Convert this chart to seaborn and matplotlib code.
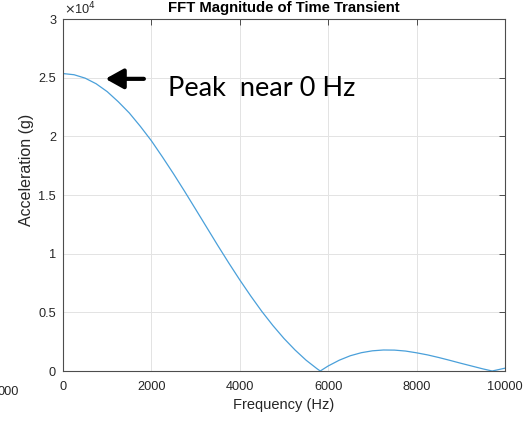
import numpy as np
import pandas as pd
import matplotlib
matplotlib.use("Agg")
import matplotlib.pyplot as plt
from matplotlib.ticker import FixedLocator, FuncFormatter
import seaborn as sns

# Magnitude spectrum of the transient (Hz, g)
freq_hz = [0, 250, 500, 750, 1000, 1250, 1500, 1750, 2000, 2250, 2500, 2750,
           3000, 3250, 3500, 3750, 4000, 4250, 4500, 4750, 5000, 5250, 5500,
           5750, 5820, 6000, 6250, 6500, 6750, 7000, 7250, 7500, 7750, 8000,
           8250, 8500, 8750, 9000, 9250, 9500, 9710, 10000]
accel_g = [25350, 25250, 24960, 24480, 23810, 22950, 21990, 20850, 19620,
           18240, 16810, 15320, 13790, 12250, 10710, 9210, 7760, 6380, 5070,
           3870, 2770, 1790, 920, 185, 0, 430, 920, 1300, 1560, 1720, 1790,
           1780, 1700, 1550, 1370, 1150, 910, 660, 420, 180, 0, 240]

x_ticks = [0, 2000, 4000, 6000, 8000, 10000]
y_ticks = [0, 5000, 10000, 15000, 20000, 25000, 30000]

df = pd.DataFrame({"Frequency (Hz)": freq_hz, "Acceleration (g)": accel_g})

sns.set_theme(style="white")
plt.rcParams["font.family"] = ["Liberation Sans", "DejaVu Sans"]

W, H = 529, 425
fig = plt.figure(figsize=(W / 100, H / 100), dpi=100)
ax = fig.add_axes([63 / W, 1 - 371 / H, (505 - 63) / W, (371 - 19) / H])

sns.lineplot(data=df, x="Frequency (Hz)", y="Acceleration (g)", ax=ax,
             color="#4aa0da", linewidth=0.9)

ax.set_xlim(0, 10000)
ax.set_ylim(0, 30000)
ax.xaxis.set_major_locator(FixedLocator(x_ticks))
ax.yaxis.set_major_locator(FixedLocator(y_ticks))
ax.xaxis.set_major_formatter(FuncFormatter(lambda v, p: f"{v:g}"))
ax.yaxis.set_major_formatter(FuncFormatter(lambda v, p: f"{v / 1e4:g}"))

ax.grid(True, color="#e3e3e3", linewidth=0.7)
ax.set_axisbelow(True)
for s in ax.spines.values():
    s.set_color("#4d4d4d")
    s.set_linewidth(0.8)
ax.tick_params(direction="in", top=True, right=True, length=4, width=0.7,
               color="#4d4d4d", labelsize=9.2, labelcolor="#262626")
ax.tick_params(axis="x", pad=7)
ax.tick_params(axis="y", pad=5)

ax.set_xlabel("Frequency (Hz)", fontsize=10.5, color="#262626")
ax.set_ylabel("Acceleration (g)", fontsize=11.5, color="#262626")
ax.xaxis.set_label_coords(0.5, (371 - 405) / 352, transform=ax.transAxes)
ax.yaxis.set_label_coords((27 - 63) / 442, (371 - 170) / 352)
ax.xaxis.label.set_va("center")
ax.yaxis.label.set_va("center")

ax.set_title("FFT Magnitude of Time Transient", fontsize=10.7,
             fontweight="bold", color="black", pad=5)

# power-of-ten multiplier for the y axis
ax.text(0.002, 1.005, r"$\times$10$^{4}$", transform=ax.transAxes,
        fontsize=9.2, color="#262626", ha="left", va="bottom")

# annotation for the main lobe
ax.annotate("", xy=(960, 24900), xytext=(1830, 24900),
            arrowprops=dict(arrowstyle="-|>,head_length=0.9,head_width=0.5",
                            color="black", lw=3, shrinkA=0, shrinkB=0))
ax.text(2370, 23400, "Peak  near 0 Hz", fontsize=19.5, family="Lato",
        color="black", ha="left", va="baseline")

# clipped tick label at the left edge
fig.text(-0.004, 1 - 392 / H, "000", fontsize=9.2, color="#262626",
         ha="left", va="center")

fig.savefig("out.png", dpi=100)
